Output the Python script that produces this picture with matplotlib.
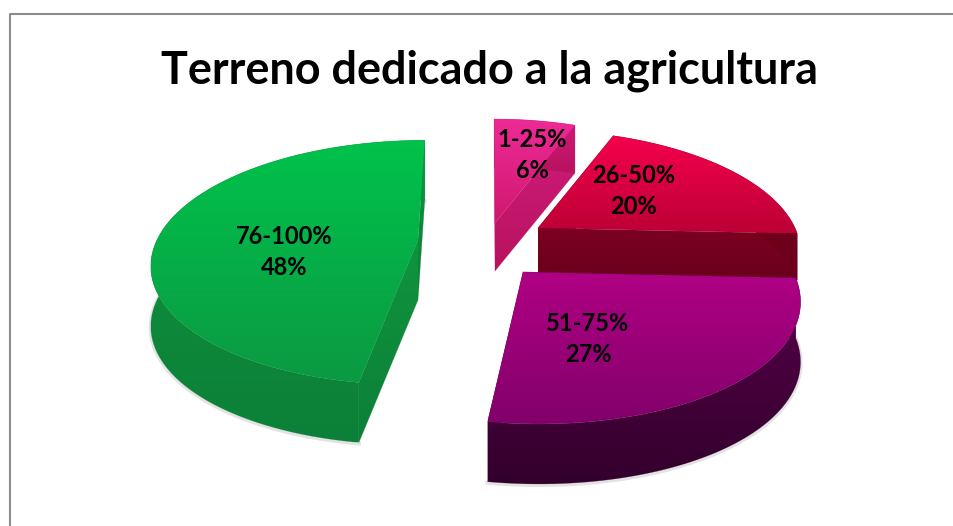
import numpy as np
import matplotlib
matplotlib.use('Agg')
import matplotlib.pyplot as plt
from matplotlib.colors import LinearSegmentedColormap
from matplotlib.patches import Polygon

# values of the chart (clockwise from the top)
categories = ['1-25%', '26-50%', '51-75%', '76-100%']
values = [6, 20, 27, 48]
chart_title = 'Terreno dedicado a la agricultura'

# top gradient start/end, wall colours
top_colors = [('#ee2a96', '#d0186f'), ('#f5004c', '#bc0036'), ('#b00084', '#82006a'), ('#00c24b', '#0b9a42')]
wall_colors = [('#d01c7c', '#b8125f'), ('#7c0022', '#6a001b'), ('#57004a', '#33002c'), ('#10943e', '#0c8038')]

# apex x/y, width, height, shear, depth of each exploded slice, in pixels
apex_x = [495, 538, 523, 418]
apex_y = [223, 228, 272, 240]
size_a = [259, 257, 270, 261]
size_b = [123, 116, 124, 118]
shear = [-1, -6, -13, 8]
depth = [48, 47, 60, 60]
persp = 0.184
label_xy = [(532, 155), (634, 191), (588, 339), (284, 252)]

fig = plt.figure(figsize=(9.54, 5.26), dpi=100)
ax = fig.add_axes([0, 0, 1, 1])
ax.set_xlim(0, 954)
ax.set_ylim(526, 0)
ax.axis('off')


def grad_fill(pts, c0, c1, zorder):
    # polygon filled with a vertical gradient
    pts = np.array(pts)
    patch = Polygon(pts, closed=True, fc='none', ec='none', transform=ax.transData)
    ax.add_patch(patch)
    cmap = LinearSegmentedColormap.from_list('g', [c0, c1])
    im = ax.imshow(np.linspace(0, 1, 64).reshape(-1, 1), cmap=cmap, aspect='auto', interpolation='bilinear',
                   extent=[pts[:, 0].min(), pts[:, 0].max(), pts[:, 1].max(), pts[:, 1].min()], zorder=zorder)
    im.set_clip_path(patch)
    # thin edge hides the jaggies of the clip
    ax.plot(pts[:, 0], pts[:, 1], color=c1, lw=0.4, alpha=0.4, zorder=zorder)


def project(theta, i):
    # pie plane to screen, the near side of the pie comes out bigger
    u = np.sin(theta)
    v = np.cos(theta)
    w = 1 + persp * v
    x = apex_x[i] + (size_a[i] * u + shear[i] * v) / w
    y = apex_y[i] - size_b[i] * v / w
    return x, y


fractions = np.array(values) / float(sum(values))
edges = np.concatenate([[0], np.cumsum(fractions)]) * 2 * np.pi

for i in range(len(values)):
    theta = np.linspace(edges[i], edges[i + 1], 120)
    x, y = project(theta, i)
    arc = np.column_stack([x, y])
    apex = np.array([[apex_x[i], apex_y[i]]])
    down = np.array([0, depth[i]])
    outline = np.vstack([apex, arc])

    # soft shadow under the rim
    if i >= 2:
        ax.plot(arc[:, 0], arc[:, 1] + depth[i] + 1, color='#777777', lw=3, alpha=0.2, zorder=1.5)

    # walls first: both cuts and then the rim
    c0, c1 = wall_colors[i]
    grad_fill(np.vstack([apex, outline[1:2], outline[1:2] + down, apex + down]), c0, c1, 2 + i)
    grad_fill(np.vstack([apex, arc[-1:], arc[-1:] + down, apex + down]), c0, c1, 2 + i)
    grad_fill(np.vstack([arc, (arc + down)[::-1]]), c0, c1, 2 + i)
    # top face
    grad_fill(outline, top_colors[i][0], top_colors[i][1], 2.5 + i)

for i in range(len(values)):
    ax.text(label_xy[i][0], label_xy[i][1], '%s\n%d%%' % (categories[i], values[i]), ha='center', va='center',
            family='Lato', fontweight='bold', fontsize=17, color='black', linespacing=1.42, zorder=10)

ax.text(489.5, 71, chart_title, ha='center', va='center', family='Lato', fontweight='bold', fontsize=32.4, color='black', zorder=10)

# chart frame, only the top and left lines show
ax.plot([10, 10, 954], [526, 14, 14], color='#8c8c8c', lw=1.5, zorder=1)
ax.set_xlim(0, 954)
ax.set_ylim(526, 0)

plt.savefig('out.png', dpi=100)
